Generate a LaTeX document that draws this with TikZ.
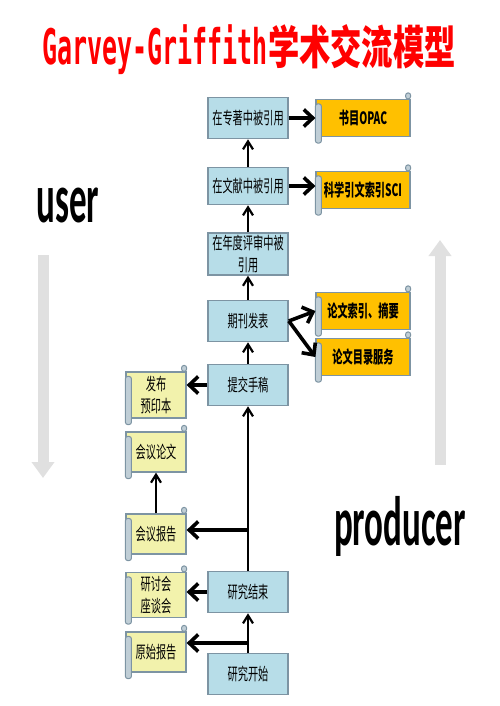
\documentclass[tikz,border=0pt]{standalone}
\usepackage{fontspec}
\usetikzlibrary{arrows.meta}

\newfontfamily\boxfont[FakeStretch=0.6]{Noto Sans CJK SC}
\newfontfamily\titlecjk[FakeStretch=0.68]{Noto Sans CJK SC}
\newfontfamily\titlemono[FakeStretch=0.51]{DejaVu Sans Mono}
\newfontfamily\sidefont[FakeStretch=0.5]{Carlito}

\definecolor{boxblue}{RGB}{183,221,232}
\definecolor{boxline}{RGB}{125,148,163}
\definecolor{scrollorange}{RGB}{255,192,0}
\definecolor{scrollyellow}{RGB}{242,242,172}
\definecolor{scrollend}{RGB}{192,206,214}
\definecolor{bigarrowgray}{RGB}{224,224,224}

\tikzset{
  stagebox/.style={draw=boxline, line width=0.8pt, fill=boxblue,
    minimum width=40pt, minimum height=20.5pt, inner sep=1pt, align=center,
    font=\boxfont\fontsize{8.5}{11}\selectfont},
  indexbox/.style={draw=boxline, line width=0.6pt, fill=scrollorange,
    minimum width=47pt, minimum height=18.5pt, inner sep=1pt, align=center,
    font=\boxfont\bfseries\fontsize{8.5}{11}\selectfont},
  outputbox/.style={draw=boxline, line width=0.6pt, fill=scrollyellow,
    minimum width=30pt, minimum height=20pt, inner sep=1pt, align=center,
    font=\boxfont\fontsize{8.5}{11}\selectfont},
  scrollpart/.style={draw=boxline, line width=0.5pt, fill=scrollend, rounded corners=1.2pt},
  uparrow/.style={-{Straight Barb[length=4pt,width=5pt]}, line width=1.1pt},
  sidearrow/.style={-{Straight Barb[length=4.5pt,width=8.5pt]}, line width=1.8pt},
  bigarrow/.style={bigarrowgray, line width=5.5pt, -{Triangle[length=8pt,width=11pt]}},
  sidelabel/.style={anchor=base, inner sep=0pt, font=\sidefont\bfseries\fontsize{35}{40}\selectfont}
}

% curled ends of a scroll box
\newcommand{\scrollends}[1]{%
  \draw[scrollpart] ([yshift=-2.5pt]#1.north west) rectangle ([xshift=3pt,yshift=-3pt]#1.south west);
  \draw[scrollpart] ([xshift=-2.5pt]#1.north east) rectangle ([yshift=3pt]#1.north east);
}

\begin{document}
\begin{tikzpicture}[x=0.5pt, y=-0.5pt]
\useasboundingbox (0,0) rectangle (499,706);

% title
\node[text=red, inner sep=0pt] (title) at (249,50)
  {{\titlemono\bfseries\fontsize{24.5}{28}\selectfont Garvey-Griffith}{\titlecjk\bfseries\fontsize{23}{28}\selectfont 学术交流模型}};

% side labels
\node[sidelabel] (user) at (68,222) {user};
\node[sidelabel] (producer) at (400,545) {producer};

% big gray arrows
\draw[bigarrow] (43,255) -- (43,478);
\draw[bigarrow] (440,465) -- (440,240);

% stages of the model
\node[stagebox] (monograph) at (248,118) {在专著中被引用};
\node[stagebox, minimum height=18.5pt] (literature) at (248,186) {在文献中被引用};
\node[stagebox] (annual) at (248,254) {在年度评审中被\\引用};
\node[stagebox] (journal) at (248,321) {期刊发表};
\node[stagebox] (manuscript) at (248,385) {提交手稿};
\node[stagebox] (finish) at (248,592) {研究结束};
\node[stagebox] (start) at (248,674) {研究开始};

% index services
\node[indexbox] (opac) at (363,118) {书目OPAC};
\node[indexbox] (sci) at (363,190) {科学引文索引SCI};
\node[indexbox] (abstracts) at (363,311) {论文索引、摘要};
\node[indexbox] (catalogue) at (363,357) {论文目录服务};

% informal outputs
\node[outputbox, minimum height=23pt] (preprint) at (156,395) {发布\\预印本};
\node[outputbox] (paper) at (156,452) {会议论文};
\node[outputbox] (report) at (156,534) {会议报告};
\node[outputbox, minimum height=22.5pt] (seminar) at (156,595) {研讨会\\座谈会};
\node[outputbox] (rawreport) at (156,652) {原始报告};

\foreach \n in {opac,sci,abstracts,catalogue,preprint,paper,report,seminar,rawreport}
  {\scrollends{\n}}

% relationships
\coordinate (startbranch) at (248,643);
\coordinate (finishbranch) at (248,530);
\draw[uparrow] (start) -- (finish);
\draw[sidearrow] (startbranch) -- (startbranch -| rawreport.east);
\draw[sidearrow] (finish.west) -- (finish.west -| seminar.east);
\draw[uparrow] (finish) -- (manuscript);
\draw[sidearrow] (finishbranch) -- (finishbranch -| report.east);
\draw[uparrow] (report) -- (paper);
\draw[sidearrow] (manuscript.west) -- (manuscript.west -| preprint.east);
\draw[uparrow] (manuscript) -- (journal);
\draw[sidearrow] (journal.east) -- (abstracts.west);
\draw[sidearrow] (journal.east) -- (catalogue.west);
\draw[uparrow] (journal) -- (annual);
\draw[uparrow] (annual) -- (literature);
\draw[uparrow] (literature) -- (monograph);
\draw[sidearrow] (monograph) -- (opac);
\draw[sidearrow] (literature.east) -- (literature.east -| sci.west);

\end{tikzpicture}
\end{document}
